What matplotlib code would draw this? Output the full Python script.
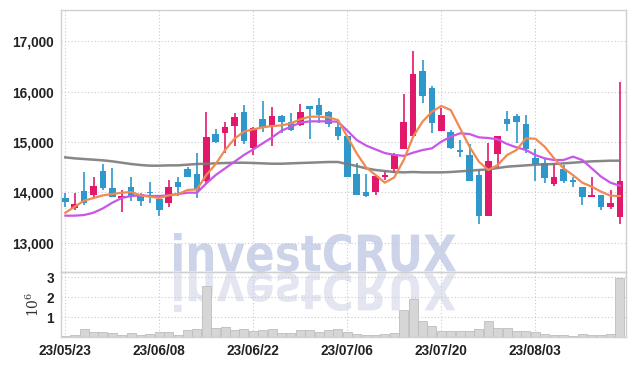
import matplotlib
matplotlib.use("Agg")
import matplotlib.pyplot as plt
import numpy as np
from matplotlib.textpath import TextPath
from matplotlib.patches import PathPatch
from matplotlib.font_manager import FontProperties
from matplotlib.transforms import Affine2D

plt.rcParams["font.family"] = ["Liberation Sans", "DejaVu Sans"]
plt.rcParams["mathtext.fontset"] = "dejavuserif"

dates = [
    "23/05/23", "23/05/24", "23/05/25", "23/05/26", "23/05/30", "23/05/31",
    "23/06/01", "23/06/02", "23/06/05", "23/06/07", "23/06/08", "23/06/09",
    "23/06/12", "23/06/13", "23/06/14", "23/06/15", "23/06/16", "23/06/19",
    "23/06/20", "23/06/21", "23/06/22", "23/06/23", "23/06/26", "23/06/27",
    "23/06/28", "23/06/29", "23/06/30", "23/07/03", "23/07/04", "23/07/05",
    "23/07/06", "23/07/07", "23/07/10", "23/07/11", "23/07/12", "23/07/13",
    "23/07/14", "23/07/17", "23/07/18", "23/07/19", "23/07/20", "23/07/21",
    "23/07/24", "23/07/25", "23/07/26", "23/07/27", "23/07/28", "23/07/31",
    "23/08/01", "23/08/02", "23/08/03", "23/08/04", "23/08/07", "23/08/08",
    "23/08/09", "23/08/10", "23/08/11", "23/08/14", "23/08/16", "23/08/17",
]

open_ = [13890, 13680, 14030, 13940, 14420, 14090, 13890, 14110, 13960, 14010,
         13870, 13780, 14200, 14460, 14360, 14230, 15160, 15170, 15310, 15600,
         14890, 15460, 15290, 15520, 15400, 15330, 15710, 15730, 15600, 15290,
         15110, 14360, 14000, 14010, 14310, 14470, 14870, 15120, 16410, 16070,
         15210, 15200, 14840, 14740, 14340, 13520, 14760, 15450, 15520, 15360,
         14690, 14580, 14170, 14460, 14250, 14110, 13910, 13950, 13700, 13500]
high = [13990, 13990, 14400, 14300, 14560, 14480, 14050, 14300, 13980, 14210,
        13910, 14250, 14310, 14510, 14780, 15590, 15250, 15390, 15580, 15730,
        15290, 15810, 15700, 15540, 15570, 15750, 15720, 15870, 15620, 15440,
        15140, 14580, 14360, 14340, 14430, 14790, 15950, 16800, 16640, 16120,
        15670, 15240, 15040, 14960, 14440, 14990, 15110, 15620, 15560, 15540,
        14870, 14660, 14590, 14540, 14310, 14110, 14300, 13950, 14050, 16200]
low = [13700, 13640, 13740, 13890, 14050, 13900, 13600, 13830, 13730, 13790,
       13520, 13710, 13930, 14300, 13880, 14190, 14990, 14790, 14930, 14970,
       14740, 15190, 14930, 15170, 15210, 15320, 15070, 15370, 15290, 15050,
       14300, 13940, 13910, 13940, 14250, 14390, 14860, 15110, 15770, 15170,
       15210, 14870, 14700, 14230, 13380, 13520, 14510, 15210, 14990, 14790,
       14230, 14180, 14130, 14180, 14110, 13740, 13910, 13650, 13670, 13370]
close = [13810, 13770, 13790, 14130, 14090, 13910, 13930, 13910, 13830, 13990,
         13640, 14110, 14110, 14310, 14050, 15100, 15000, 15290, 15500, 15030,
         15270, 15270, 15520, 15390, 15240, 15600, 15660, 15540, 15350, 15110,
         14310, 13950, 13930, 14320, 14340, 14740, 15400, 16350, 15920, 15370,
         15540, 14890, 14800, 14230, 13520, 14620, 15110, 15350, 15390, 14870,
         14560, 14290, 14310, 14230, 14210, 13910, 13950, 13700, 13790, 14220]

ma_short = [13595, 13714, 13834, 13887, 13940, 13966, 13993, 14006, 13940, 13913,
            13887, 13940, 13966, 14046, 14059, 14344, 14563, 14841, 15066, 15206,
            15252, 15292, 15318, 15331, 15371, 15451, 15504, 15504, 15491, 15438,
            15106, 14775, 14497, 14344, 14192, 14298, 14642, 15106, 15404, 15603,
            15716, 15636, 15272, 14907, 14609, 14444, 14543, 14742, 14841, 15073,
            15066, 14907, 14675, 14477, 14344, 14192, 14112, 14013, 13933, 13927]
ma_mid = [13536, 13536, 13549, 13595, 13681, 13794, 13887, 13927, 13940, 13927,
          13927, 13940, 13966, 13993, 13993, 14178, 14344, 14477, 14609, 14742,
          14854, 14974, 15093, 15226, 15304, 15385, 15411, 15411, 15411, 15404,
          15226, 15040, 14930, 14854, 14780, 14745, 14725, 14788, 14841, 14874,
          15007, 15106, 15173, 15159, 15093, 15080, 15053, 14960, 14894, 14841,
          14742, 14675, 14642, 14642, 14709, 14642, 14477, 14311, 14192, 14132]
ma_long = [14695, 14675, 14662, 14649, 14636, 14616, 14589, 14563, 14543, 14530,
           14530, 14536, 14536, 14550, 14563, 14569, 14576, 14583, 14589, 14589,
           14583, 14576, 14569, 14569, 14576, 14583, 14589, 14596, 14603, 14603,
           14563, 14523, 14477, 14444, 14424, 14404, 14397, 14404, 14397, 14397,
           14397, 14404, 14417, 14430, 14444, 14457, 14483, 14510, 14523, 14536,
           14550, 14556, 14563, 14576, 14589, 14603, 14616, 14622, 14629, 14629]

volume_m = [0.07, 0.12, 0.40, 0.27, 0.27, 0.20, 0.10, 0.20, 0.10, 0.17,
            0.23, 0.27, 0.10, 0.37, 0.40, 2.57, 0.45, 0.50, 0.37, 0.40,
            0.32, 0.37, 0.40, 0.20, 0.20, 0.35, 0.33, 0.27, 0.37, 0.40,
            0.23, 0.17, 0.10, 0.08, 0.17, 0.20, 1.37, 1.90, 0.82, 0.57,
            0.32, 0.28, 0.32, 0.32, 0.42, 0.80, 0.47, 0.47, 0.32, 0.32,
            0.25, 0.17, 0.10, 0.10, 0.07, 0.17, 0.12, 0.12, 0.17, 2.95]

price_ticks = [13000, 14000, 15000, 16000, 17000]
volume_ticks = [1, 2, 3]
label_every = 10

up_color = "#e2196b"
down_color = "#2f97c9"
grid_color = "#c9c9d9"
spine_color = "#d0d0d0"

x = np.arange(len(dates))
o = np.array(open_)
c = np.array(close)
colors = np.where(c >= o, up_color, down_color)

fig = plt.figure(figsize=(6.34, 3.66), dpi=100)
fig.patch.set_facecolor("white")
ax = fig.add_axes([0.0962, 0.2568, 0.8912, 0.7158])
axv = fig.add_axes([0.0962, 0.0792, 0.8912, 0.1776], sharex=ax)
for a in (ax, axv):
    a.set_facecolor("none")
    for s in a.spines.values():
        s.set_color(spine_color)
        s.set_linewidth(1.0)
    a.grid(True, color=grid_color, linestyle=(0, (1, 2)), linewidth=0.8)
    a.set_axisbelow(True)
    a.tick_params(length=0, labelsize=9.8, labelcolor="#222222", pad=5)

# watermark with mirrored reflection, drawn in pixels behind the axes
tp = TextPath((0, 0), "investCRUX", size=100,
              prop=FontProperties(family="DejaVu Sans", weight="bold"))
ext = tp.get_extents()
sx = 282 / ext.width
sy = 39 / ext.height
wm = Affine2D().translate(-ext.x0, -ext.y0).scale(sx, sy).translate(174, 94)
wm_ref = Affine2D().translate(-ext.x0, -ext.y0).scale(sx, -sy).translate(174, 93)
fig.add_artist(PathPatch(tp, transform=wm, facecolor="#cdd4ea", edgecolor="none", zorder=-2))
fig.add_artist(PathPatch(tp, transform=wm_ref, facecolor="#e3e6f1", edgecolor="none", zorder=-2))

# candles
ax.vlines(x, low, high, colors=colors, linewidth=1.2, zorder=2)
body_bottom = np.minimum(o, c)
body_height = np.maximum(np.abs(c - o), 25)
ax.bar(x, body_height, bottom=body_bottom, width=0.72, color=colors, zorder=3)

ax.plot(x, ma_long, color="#7a7a7a", linewidth=1.8, alpha=0.9, zorder=4)
ax.plot(x, ma_mid, color="#c956e6", linewidth=1.6, zorder=4)
ax.plot(x, ma_short, color="#ee8a52", linewidth=1.6, zorder=4)

ax.set_xlim(-0.46, 59.65)
ax.set_ylim(12416, 17624)
ax.set_yticks(price_ticks)
ax.set_yticklabels([f"{t:,}" for t in price_ticks], fontweight="bold")
ax.tick_params(axis="x", labelbottom=False)

axv.bar(x, volume_m, width=0.95, color="#d6d6d6", edgecolor="#bdbdbd", linewidth=0.6, zorder=2)
axv.set_ylim(0, 3.27)
axv.set_yticks(volume_ticks)
axv.set_yticklabels([str(t) for t in volume_ticks], fontweight="bold")
tick_pos = x[::label_every]
axv.set_xticks(tick_pos)
axv.set_xticklabels([dates[i] for i in tick_pos], fontweight="bold")
axv.set_ylabel(r"$10^6$", fontsize=10, color="#333333", labelpad=3)

fig.savefig("out.png", dpi=100)
